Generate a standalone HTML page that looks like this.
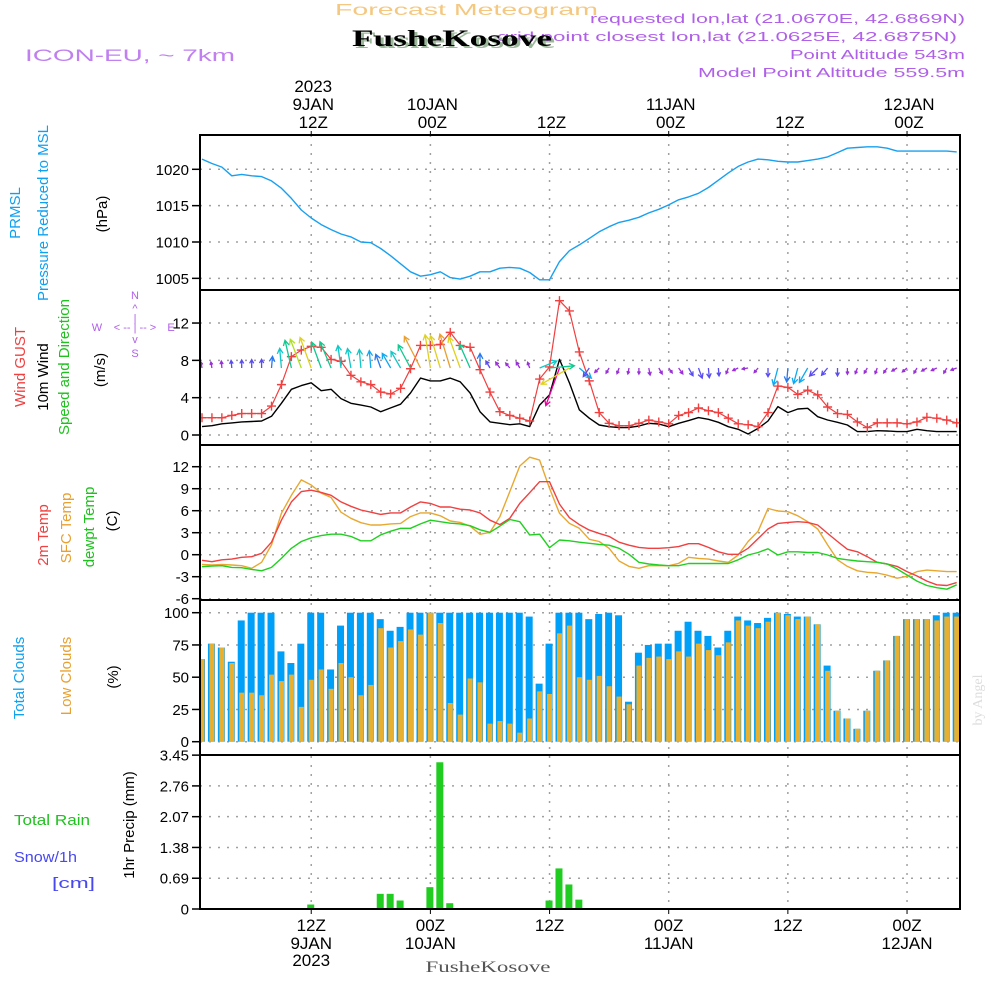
<!DOCTYPE html>
<html><head><meta charset="utf-8"><title>Forecast Meteogram FusheKosove</title>
<style>
html,body{margin:0;padding:0;background:#fff;}
svg{display:block;font-family:"Liberation Sans",sans-serif;}
</style></head>
<body>
<svg id="chart" xmlns="http://www.w3.org/2000/svg" width="1000" height="1000" viewBox="0 0 1000 1000">
<defs><clipPath id="plotclip"><rect x="200" y="135" width="760" height="774"/></clipPath></defs>
<rect x="0" y="0" width="1000" height="1000" fill="#fff"/>
<!-- header -->
<text x="335" y="15" font-size="16" fill="#f5c880" textLength="263" lengthAdjust="spacingAndGlyphs">Forecast Meteogram</text>
<text x="497" y="41" font-size="13" fill="#b060e8" textLength="460" lengthAdjust="spacingAndGlyphs">grid point closest lon,lat (21.0625E, 42.6875N)</text>
<text x="355" y="48" font-size="23" font-weight="bold" fill="#9bb89b" font-family="Liberation Serif,serif" textLength="200" lengthAdjust="spacingAndGlyphs">FusheKosove</text>
<text x="352" y="46" font-size="23" font-weight="bold" fill="#000" font-family="Liberation Serif,serif" textLength="200" lengthAdjust="spacingAndGlyphs">FusheKosove</text>
<text x="25" y="61" font-size="17" fill="#c080f0" textLength="210" lengthAdjust="spacingAndGlyphs">ICON-EU, ~ 7km</text>
<text x="590" y="23" font-size="13" fill="#b060e8" textLength="375" lengthAdjust="spacingAndGlyphs">requested lon,lat (21.0670E, 42.6869N)</text>
<text x="790" y="59" font-size="13" fill="#b060e8" textLength="175" lengthAdjust="spacingAndGlyphs">Point Altitude 543m</text>
<text x="698" y="77" font-size="13" fill="#b060e8" textLength="267" lengthAdjust="spacingAndGlyphs">Model Point Altitude 559.5m</text>

<!-- left axis titles -->
<g font-size="15" text-anchor="middle">
<text transform="translate(20,213) rotate(-90)" fill="#10a0f0">PRMSL</text>
<text transform="translate(48,213) rotate(-90)" fill="#10a0f0">Pressure Reduced to MSL</text>
<text transform="translate(107,214) rotate(-90)" fill="#000">(hPa)</text>
<text transform="translate(25,367) rotate(-90)" fill="#f04040">Wind GUST</text>
<text transform="translate(48,377) rotate(-90)" fill="#000">10m Wind</text>
<text transform="translate(69,367) rotate(-90)" fill="#20c020">Speed and Direction</text>
<text transform="translate(105,370) rotate(-90)" fill="#000">(m/s)</text>
<text transform="translate(48,535) rotate(-90)" fill="#f04040">2m Temp</text>
<text transform="translate(71,528) rotate(-90)" fill="#e8a030">SFC Temp</text>
<text transform="translate(94,527) rotate(-90)" fill="#20c020">dewpt Temp</text>
<text transform="translate(117,521) rotate(-90)" fill="#000">(C)</text>
<text transform="translate(24,678) rotate(-90)" fill="#10a0f0">Total Clouds</text>
<text transform="translate(71,676) rotate(-90)" fill="#e8a030">Low Clouds</text>
<text transform="translate(118,677) rotate(-90)" fill="#000">(%)</text>
<text transform="translate(134,825) rotate(-90)" fill="#000">1hr Precip (mm)</text>
</g>
<text x="14" y="825" font-size="15" fill="#20c020" textLength="76" lengthAdjust="spacingAndGlyphs">Total  Rain</text>
<text x="14" y="862" font-size="15" fill="#4848f0" textLength="63" lengthAdjust="spacingAndGlyphs">Snow/1h</text>
<text x="52" y="888" font-size="15" fill="#4848f0" textLength="43" lengthAdjust="spacingAndGlyphs">[cm]</text>
<g fill="#b060e8" font-size="11" text-anchor="middle">
<text x="135" y="299">N</text><text x="135" y="312">^</text><text x="135" y="322">|</text>
<text x="97" y="331">W</text><text x="117" y="331">&lt;</text><text x="135" y="331">-- | --</text><text x="153" y="331">&gt;</text><text x="171" y="331">E</text>
<text x="135" y="343">v</text><text x="135" y="357">S</text>
</g>
<text transform="translate(982,700) rotate(-90)" font-size="14" fill="#dddddd" text-anchor="middle" font-family="Liberation Serif,serif">by Angel</text>
<text x="488" y="972" font-size="16" fill="#555" text-anchor="middle" font-family="Liberation Serif,serif" textLength="125" lengthAdjust="spacingAndGlyphs">FusheKosove</text>

<g id="grid"></g>
<g id="data" clip-path="url(#plotclip)"></g>
<g id="axes"></g>
<g id="frame" fill="none" stroke="#000" stroke-width="2">
<rect x="200" y="135" width="760" height="774"/>
<line x1="200" y1="290" x2="960" y2="290"/><line x1="200" y1="445" x2="960" y2="445"/>
<line x1="200" y1="600" x2="960" y2="600"/><line x1="200" y1="755" x2="960" y2="755"/>
</g>
</svg>
<script>
// ---- data (hours since 01Z 9 JAN 2023) ----
const timeTickHours = [11, 23, 35, 47, 59, 71];
const timeTickHour = ["12Z", "00Z", "12Z", "00Z", "12Z", "00Z"];
const timeTickDay = ["9JAN", "10JAN", "", "11JAN", "", "12JAN"];
const timeTickYear = ["2023", "", "", "", "", ""];

const pressure = [1021.4,1020.8,1020.3,1019.1,1019.3,1019.1,1019.0,1018.4,1017.4,1016.0,
1014.4,1013.3,1012.4,1011.7,1011.1,1010.7,1010.0,1009.9,1009.1,1008.1,
1007.0,1005.9,1005.3,1005.5,1005.9,1005.1,1004.9,1005.3,1005.9,1005.9,
1006.4,1006.5,1006.4,1005.8,1004.8,1004.8,1007.3,1008.8,1009.6,1010.5,
1011.4,1012.1,1012.7,1013.0,1013.4,1014.0,1014.5,1015.1,1015.8,1016.2,
1016.7,1017.5,1018.5,1019.5,1020.4,1021.0,1021.4,1021.3,1021.1,1021.0,
1021.0,1021.2,1021.4,1021.7,1022.3,1022.9,1023.0,1023.1,1023.1,1022.9,
1022.5,1022.5,1022.5,1022.5,1022.5,1022.5,1022.4];
const pressureTicks = [1020, 1015, 1010, 1005];

const windGust = [1.85,1.85,1.85,2.1,2.3,2.3,2.3,3.1,5.4,8.4,
9.1,9.5,9.4,8.1,7.9,6.4,5.7,5.4,4.6,4.4,
5.0,7.1,9.6,9.6,9.7,11.0,9.6,9.4,7.0,4.6,
2.5,2.1,1.8,1.5,6.0,7.3,14.4,13.3,8.9,5.8,
2.4,1.25,1.0,1.0,1.25,1.6,1.4,1.2,2.1,2.4,
2.9,2.6,2.4,1.8,1.2,1.1,0.9,2.4,5.25,5.1,
4.35,4.8,4.3,3.0,2.3,2.2,1.4,0.8,1.3,1.3,
1.3,1.2,1.4,1.9,1.8,1.6,1.3];
const wind10m = [0.9,1.0,1.2,1.3,1.4,1.45,1.5,2.0,3.4,4.9,
5.3,5.6,4.75,4.9,3.9,3.4,3.2,3.0,2.5,2.9,
3.3,4.5,6.1,5.8,5.8,6.1,5.7,4.5,2.5,1.4,
1.25,1.1,1.2,0.9,3.2,4.3,8.1,5.6,2.7,1.8,
1.07,0.89,0.79,0.79,0.96,1.25,1.18,0.89,1.25,1.54,
1.86,1.68,1.36,0.89,0.61,0.11,0.71,1.5,3.04,2.4,
2.79,2.86,1.96,1.61,1.36,1.07,0.36,0.36,0.46,0.43,
0.36,0.36,0.61,0.46,0.36,0.36,0.36];
const windDir = [-10,-10,-5,-5,0,0,0,5,-5,-13,
-21,-20,-20,-23,-8,-10,-5,-5,-20,-30,
-30,-28,-27,-9,-17,-17,-20,-24,0,-30,
-35,-40,-30,-20,68,85,200,240,130,215,
225,210,200,190,180,170,150,145,145,150,
160,175,175,200,245,260,220,180,195,185,
195,210,225,220,180,180,200,210,200,215,
240,230,210,240,245,210,250];
const windTicks = [12, 8, 4, 0];

const temp2m = [-0.77,-0.95,-0.7,-0.6,-0.35,-0.27,0.19,1.7,4.7,7.2,
8.6,8.8,8.5,8.1,7.2,6.6,6.1,5.8,5.5,5.7,
5.7,6.5,7.2,7.0,6.5,6.5,6.2,6.1,5.7,4.7,
4.1,4.96,7.0,8.45,9.96,9.96,6.9,5.05,4.1,3.36,
2.9,2.5,1.7,1.3,1.0,0.87,0.87,0.96,1.1,1.5,
1.5,1.0,0.4,0.05,0.05,0.87,2.2,3.5,4.27,4.4,
4.5,4.4,4.05,2.9,1.8,0.73,0.4,-0.27,-1.04,-1.27,
-1.6,-2.3,-2.9,-3.6,-4.1,-4.2,-3.8];
const tempSfc = [-1.33,-1.4,-1.33,-1.4,-1.5,-1.86,-1.04,1.33,5.64,8.1,
10.2,9.5,8.4,7.8,5.8,4.96,4.36,4.05,4.05,4.2,
4.27,5.2,5.7,5.7,5.3,4.6,4.4,3.9,2.78,3.05,
5.2,8.6,12.1,13.3,12.9,9.05,5.64,4.27,3.6,2.1,
1.8,0.87,-0.86,-1.6,-1.86,-1.5,-1.5,-1.5,-1.18,-0.35,
-0.5,-0.6,-0.86,-1.04,-0.04,1.8,3.2,6.3,5.96,5.87,
5.3,4.5,3.5,1.33,-0.7,-1.6,-2.2,-2.4,-2.5,-2.8,
-3.2,-2.95,-2.3,-2.1,-2.2,-2.3,-2.3];
const dewpoint = [-1.64,-1.55,-1.5,-1.73,-1.77,-2.0,-2.2,-1.73,-0.5,0.87,
1.8,2.3,2.6,2.8,2.8,2.5,1.9,1.9,2.7,3.2,
3.6,3.6,4.2,4.7,4.5,4.3,4.2,3.96,3.4,3.05,
3.9,4.8,4.5,2.7,2.8,0.96,2.0,1.9,1.7,1.55,
1.4,1.3,0.87,0.05,-1.04,-1.27,-1.4,-1.5,-1.5,-1.2,
-1.2,-1.2,-1.2,-1.2,-0.7,-0.04,0.3,0.8,-0.04,0.4,
0.4,0.3,0.3,-0.04,-0.5,-0.7,-0.86,-0.95,-1.04,-1.27,
-1.95,-2.77,-3.6,-4.2,-4.5,-4.7,-4.1];
const tempTicks = [12, 9, 6, 3, 0, -3, -6];

const cloudTotal = [64,76,73,62,94,100,100,100,70,61,
76,100,100,56,90,100,100,100,95,86,
89,100,100,100,100,100,100,100,100,100,
100,100,100,97,45,76,100,100,100,95,
99,100,98,31,69,75,76,76,86,93,
86,82,73,86,97,94,92,96,100,99,
97,97,91,59,24,18,10,24,55,63,
82,95,95,95,98,100,100];
const cloudLow = [64,76,73,61,38,38,36,52,47,52,
27,48,56,41,61,50,36,44,88,73,
78,87,83,100,92,30,21,49,46,14,
16,14,7,18,39,37,84,90,50,48,
51,43,35,29,59,65,66,64,70,66,
76,71,67,77,94,90,88,93,100,98,
95,97,91,55,24,18,10,24,55,63,
82,95,95,95,94,97,97];
const cloudTicks = [100, 75, 50, 25, 0];

const precipHours = [11, 18, 19, 20, 23, 24, 25, 35, 36, 37, 38, 58];
const precipValues = [0.1, 0.34, 0.34, 0.19, 0.49, 3.29, 0.13, 0.19, 0.91, 0.55, 0.21, 0.02];
const precipTicks = ["3.45", "2.76", "2.07", "1.38", "0.69", "0"];

// ---- scales ----
const X = h => 202 + 9.93 * h;
const yP = v => 169.3 + (1020 - v) * 7.27;
const yW = v => 435 - v * 9.33;
const yT = v => 554.7 - v * 7.333;
const yC = v => 741.7 - v * 1.29;
const yR = v => 909 - v * 44.6;
const NS = "http://www.w3.org/2000/svg";
const grid = document.getElementById("grid");
const data = document.getElementById("data");
const axes = document.getElementById("axes");

function el(tag, parent) {
  const e = document.createElementNS(NS, tag);
  parent.appendChild(e);
  return e;
}
function hgrid(y) {
  const l = el("line", grid);
  
  
  l.setAttribute("x1", 200); l.setAttribute("x2", 960);
  l.setAttribute("y1", y); l.setAttribute("y2", y);
  l.setAttribute("stroke", "#a0a0a0"); l.setAttribute("stroke-width", "1.5");
  l.setAttribute("stroke-dasharray", "2 7");
}
function ytick(y, label, name) {
  const t = el("line", axes);
  
  
  t.setAttribute("x1", 192); t.setAttribute("x2", 200);
  t.setAttribute("y1", y); t.setAttribute("y2", y);
  t.setAttribute("stroke", "#000"); t.setAttribute("stroke-width", "1.5");
  const tx = el("text", axes);
  
  
  tx.setAttribute("x", 189); tx.setAttribute("y", y + 5.5);
  tx.setAttribute("font-size", "15"); tx.setAttribute("text-anchor", "end");
  tx.textContent = label;
}
// vertical time grid + tick labels
timeTickHours.forEach((h, i) => {
  const x = X(h);
  const v = el("line", grid);
  
  
  v.setAttribute("x1", x); v.setAttribute("x2", x);
  v.setAttribute("y1", 135); v.setAttribute("y2", 909);
  v.setAttribute("stroke", "#a0a0a0"); v.setAttribute("stroke-width", "1.5");
  v.setAttribute("stroke-dasharray", "2 7");
  const tk = el("line", axes);
  
  
  tk.setAttribute("x1", x); tk.setAttribute("x2", x);
  tk.setAttribute("y1", 131); tk.setAttribute("y2", 135);
  tk.setAttribute("stroke", "#000");
  const tk2 = el("line", axes);
  
  
  tk2.setAttribute("x1", x); tk2.setAttribute("x2", x);
  tk2.setAttribute("y1", 909); tk2.setAttribute("y2", 914);
  tk2.setAttribute("stroke", "#000");
  const topRows = [[timeTickYear[i], 92], [timeTickDay[i], 110], [timeTickHour[i], 128]];
  topRows.forEach(r => {
    if (!r[0]) return;
    const t = el("text", axes);
    
    
    t.setAttribute("x", x + 2); t.setAttribute("y", r[1]);
    t.setAttribute("font-size", "17"); t.setAttribute("text-anchor", "middle");
    t.textContent = r[0];
  });
  const botRows = [[timeTickHour[i], 931], [timeTickDay[i], 949], [timeTickYear[i], 966]];
  botRows.forEach(r => {
    if (!r[0]) return;
    const t = el("text", axes);
    
    
    t.setAttribute("x", x); t.setAttribute("y", r[1]);
    t.setAttribute("font-size", "17"); t.setAttribute("text-anchor", "middle");
    t.textContent = r[0];
  });
});
pressureTicks.forEach(v => { hgrid(yP(v)); ytick(yP(v), String(v), "pressure"); });
windTicks.forEach(v => { hgrid(yW(v)); ytick(yW(v), String(v), "wind"); });
tempTicks.forEach(v => { hgrid(yT(v)); ytick(yT(v), String(v), "temp"); });
cloudTicks.forEach(v => { hgrid(yC(v)); ytick(yC(v), String(v), "cloud"); });
precipTicks.forEach(s => { const v = parseFloat(s); hgrid(yR(v)); ytick(yR(v), s, "precip"); });

function polyline(values, yf, color, name, w) {
  const p = el("polyline", data);
  
  
  p.setAttribute("points", values.map((v, i) => X(i).toFixed(1) + "," + yf(v).toFixed(1)).join(" "));
  p.setAttribute("fill", "none"); p.setAttribute("stroke", color);
  p.setAttribute("stroke-width", w || 1.4); p.setAttribute("stroke-linejoin", "round");
}
// clouds
cloudTotal.forEach((v, i) => {
  const r = el("rect", data);
  
  
  r.setAttribute("x", X(i) - 4); r.setAttribute("width", 7);
  r.setAttribute("y", yC(v)); r.setAttribute("height", yC(0) - yC(v));
  r.setAttribute("fill", "#00a0f8");
});
cloudLow.forEach((v, i) => {
  const r = el("rect", data);
  
  
  r.setAttribute("x", X(i) - 2.5); r.setAttribute("width", 5);
  r.setAttribute("y", yC(v)); r.setAttribute("height", yC(0) - yC(v));
  r.setAttribute("fill", "#e8b030");
});
// precip
precipHours.forEach((h, i) => {
  const r = el("rect", data);
  
  
  r.setAttribute("x", X(h) - 4); r.setAttribute("width", 7);
  r.setAttribute("y", yR(precipValues[i])); r.setAttribute("height", yR(0) - yR(precipValues[i]));
  r.setAttribute("fill", "#20cc20");
});
// pressure
polyline(pressure, yP, "#18a0f0", "pressure-line", 1.4);
// temps
polyline(tempSfc, yT, "#e8a830", "sfc-temp-line", 1.4);
polyline(temp2m, yT, "#f04040", "temp-2m-line", 1.4);
polyline(dewpoint, yT, "#20d020", "dewpoint-line", 1.4);
// wind
polyline(wind10m, yW, "#000", "wind-10m-line", 1.4);
polyline(windGust, yW, "#f04040", "wind-gust-line", 1.2);
windGust.forEach((v, i) => {
  const x = X(i), y = yW(v);
  const m = el("path", data);
  
  
  m.setAttribute("d", `M${x - 4.5},${y}H${x + 4.5}M${x},${y - 4.5}V${y + 4.5}`);
  m.setAttribute("stroke", "#f04040"); m.setAttribute("stroke-width", "1.4");
});
function windColor(s) {
  if (s < 1.3) return "#9b30d9";
  if (s < 2) return "#5a4cf0";
  if (s < 2.6) return "#2878f0";
  if (s < 3.2) return "#10a8f0";
  if (s < 4) return "#10c8c8";
  if (s < 5) return "#10c890";
  if (s < 5.5) return "#b0e020";
  if (s < 6) return "#e0d020";
  if (s < 7) return "#e8a030";
  return "#f000a0";
}
windDir.forEach((d, i) => {
  const s = wind10m[i];
  const len = Math.min(40, Math.max(6, 5.8 * s));
  const a = d * Math.PI / 180;
  const x0 = X(i), y0 = 368;
  const x1 = x0 + len * Math.sin(a), y1 = y0 - len * Math.cos(a);
  const hl = Math.min(6, len * 0.5);
  const a1 = a + Math.PI - 0.5, a2 = a + Math.PI + 0.5;
  const ar = el("path", data);
  
  
  ar.setAttribute("d", `M${x0.toFixed(1)},${y0}L${x1.toFixed(1)},${y1.toFixed(1)}M${(x1 + hl * Math.sin(a1)).toFixed(1)},${(y1 - hl * Math.cos(a1)).toFixed(1)}L${x1.toFixed(1)},${y1.toFixed(1)}L${(x1 + hl * Math.sin(a2)).toFixed(1)},${(y1 - hl * Math.cos(a2)).toFixed(1)}`);
  ar.setAttribute("fill", "none");
  ar.setAttribute("stroke", windColor(s));
  ar.setAttribute("stroke-width", "1.3");
});
</script>
</body></html>
